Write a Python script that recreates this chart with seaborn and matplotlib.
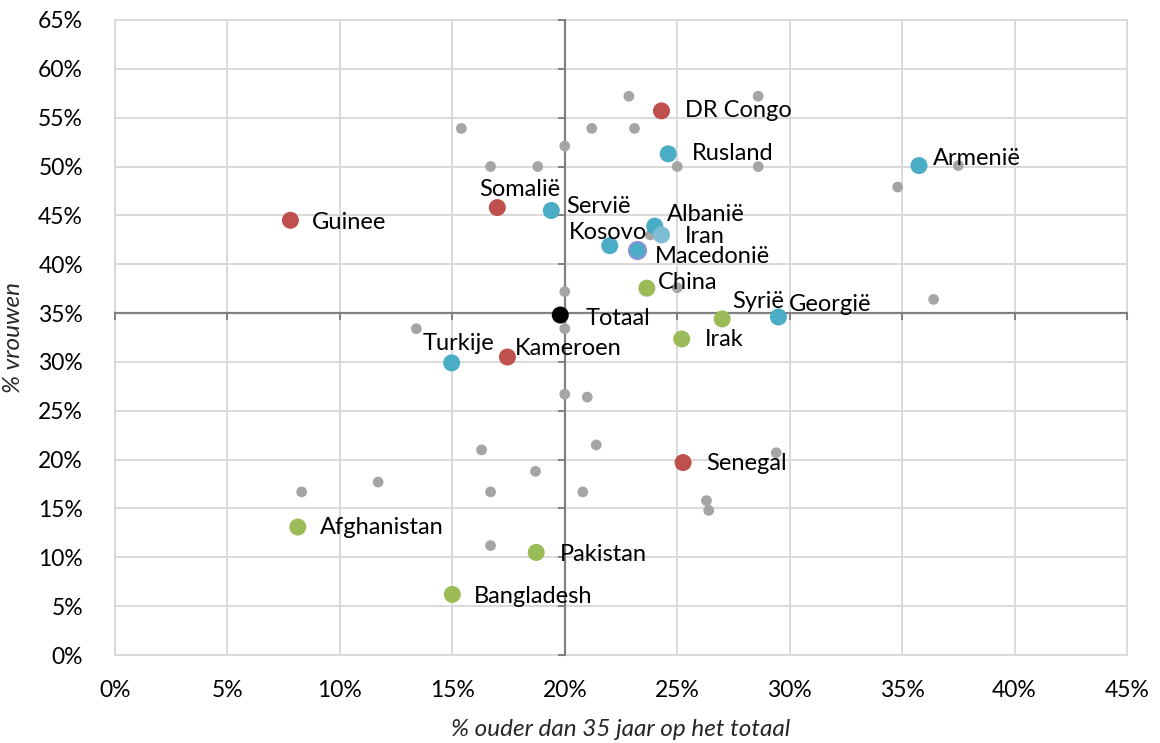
import matplotlib
matplotlib.use("Agg")
import matplotlib.pyplot as plt
import seaborn as sns
import pandas as pd
from matplotlib.ticker import FixedLocator, FuncFormatter

# ---------------- data ----------------
# Other (unlabelled) countries, grey
grey_x = [22.85, 28.6, 15.4, 21.2, 23.1, 20.0, 16.7, 18.8, 25.0, 28.6, 23.8, 25.0, 20.0,
          13.4, 20.0, 20.0, 21.0, 16.3, 21.4, 29.4, 18.7, 8.3, 11.7, 16.7, 20.8, 26.3,
          26.4, 16.7, 37.5, 34.8, 36.4]
grey_y = [57.2, 57.2, 53.9, 53.9, 53.9, 52.1, 50.0, 50.0, 50.0, 50.0, 43.0, 37.6, 37.2,
          33.4, 33.4, 26.7, 26.4, 21.0, 21.5, 20.7, 18.8, 16.7, 17.7, 16.7, 16.7, 15.8,
          14.8, 11.2, 50.1, 47.9, 36.4]

countries = ["DR Congo", "Rusland", "Armenië", "Somalië", "Servië", "Albanië", "Iran",
             "Kosovo", "Macedonië", "China", "Syrië", "Georgië", "Totaal", "Irak",
             "Turkije", "Kameroen", "Senegal", "Afghanistan", "Pakistan", "Bangladesh",
             "Guinee"]
pct_older = [24.3, 24.6, 35.75, 17.0, 19.4, 24.0, 24.3, 22.0, 23.2, 23.65, 27.0, 29.5,
             19.8, 25.2, 14.97, 17.45, 25.26, 8.13, 18.73, 15.0, 7.8]
pct_women = [55.7, 51.3, 50.1, 45.8, 45.5, 43.9, 43.0, 41.9, 41.5, 37.55, 34.4, 34.6,
             34.8, 32.35, 29.9, 30.5, 19.7, 13.1, 10.5, 6.2, 44.5]
region = ["Afrika", "Europa", "Europa", "Afrika", "Europa", "Europa", "Iran",
          "Europa", "Macedonie", "Azie", "Azie", "Europa", "Totaal", "Azie",
          "Europa", "Afrika", "Afrika", "Azie", "Azie", "Azie", "Afrika"]

x_ticks = [0, 5, 10, 15, 20, 25, 30, 35, 40, 45]
y_ticks = [0, 5, 10, 15, 20, 25, 30, 35, 40, 45, 50, 55, 60, 65]

# ---------------- style ----------------
palette = {"Afrika": "#C0504D", "Europa": "#4BACC6", "Azie": "#9BBB59",
           "Iran": "#7DBDD5", "Macedonie": "#4BACC6", "Totaal": "#000000"}
label_offsets = {  # pixel offsets (dx, dy) of label anchor relative to point
    "DR Congo": (24, 0, "left"), "Rusland": (24, 0, "left"), "Armenië": (14, 7, "left"),
    "Somalië": (22, 18, "center"), "Servië": (15, 4, "left"), "Albanië": (12, 12, "left"),
    "Iran": (23, -2, "left"), "Kosovo": (-2, 13, "center"), "Macedonië": (18, -7, "left"),
    "China": (11, 6, "left"), "Syrië": (10, 17, "left"), "Georgië": (10, 12, "left"),
    "Totaal": (25, -3, "left"), "Irak": (23, -1, "left"), "Turkije": (7, 19, "center"),
    "Kameroen": (7, 9, "left"), "Senegal": (23, -1, "left"), "Afghanistan": (22, 0, "left"),
    "Pakistan": (24, -2, "left"), "Bangladesh": (22, -2, "left"), "Guinee": (21, -2, "left"),
}
LABEL_FS = 17
TICK_FS = 16.5
TITLE_FS = 17.5

sns.set_theme(style="white")
plt.rcParams["font.family"] = ["Lato", "DejaVu Sans"]

fig = plt.figure(figsize=(11.6, 7.43), dpi=100)
ax = fig.add_axes([115 / 1160, 1 - 655 / 743, (1127 - 115) / 1160, (655 - 20) / 743])

grid_c = "#D9D9D9"
for v in x_ticks:
    ax.axvline(v, color=grid_c, lw=1.4, zorder=0, clip_on=False)
for v in y_ticks:
    ax.axhline(v, color=grid_c, lw=1.4, zorder=0, clip_on=False)

grey_df = pd.DataFrame({"x": grey_x, "y": grey_y})
sns.scatterplot(data=grey_df, x="x", y="y", color="#A5A5A5", s=60, edgecolor="none",
                ax=ax, zorder=3, legend=False)

df = pd.DataFrame({"x": pct_older, "y": pct_women, "region": region, "name": countries})
main = df[df["region"] != "Macedonie"]
sns.scatterplot(data=main, x="x", y="y", hue="region", palette=palette, s=150,
                edgecolor="none", ax=ax, zorder=4, legend=False)
mac = df[df["region"] == "Macedonie"]
sns.scatterplot(data=mac, x="x", y="y", color="#4BACC6", s=150, edgecolor="#8E92D6",
                linewidth=1.6, ax=ax, zorder=4, legend=False)

for name, xv, yv in zip(countries, pct_older, pct_women):
    dx, dy, ha = label_offsets[name]
    ax.annotate(name, (xv, yv), xytext=(dx, dy), textcoords="offset pixels",
                ha=ha, va="center", fontsize=LABEL_FS, color="#000000", zorder=5)

ax.set_xlim(0, 45)
ax.set_ylim(0, 65)

# axes crossing at (20%, 35%)
for s in ["top", "right"]:
    ax.spines[s].set_visible(False)
ax.spines["left"].set_position(("data", 20))
ax.spines["bottom"].set_position(("data", 35))
for s in ["left", "bottom"]:
    ax.spines[s].set_color("#808080")
    ax.spines[s].set_linewidth(1.6)
    ax.spines[s].set_zorder(2)
ax.xaxis.set_major_locator(FixedLocator(x_ticks))
ax.yaxis.set_major_locator(FixedLocator(y_ticks))
ax.tick_params(axis="both", which="major", direction="out", length=5, width=1.4,
               color="#808080", labelleft=False, labelbottom=False,
               left=True, bottom=True)
ax.set_xlabel("")
ax.set_ylabel("")

pct = FuncFormatter(lambda v, p: f"{v:.0f}%")
secx = ax.secondary_xaxis(0)
secx.xaxis.set_major_locator(FixedLocator(x_ticks))
secx.xaxis.set_major_formatter(pct)
secx.tick_params(length=0, pad=18, labelsize=TICK_FS, labelcolor="#000000")
secx.spines["bottom"].set_visible(False)
secx.set_xlabel("% ouder dan 35 jaar op het totaal", fontsize=TITLE_FS, style="italic",
                labelpad=13)

secy = ax.secondary_yaxis(0)
secy.yaxis.set_major_locator(FixedLocator(y_ticks))
secy.yaxis.set_major_formatter(pct)
secy.tick_params(length=0, pad=23, labelsize=TICK_FS, labelcolor="#000000")
secy.spines["left"].set_visible(False)
secy.set_ylabel("% vrouwen", fontsize=TITLE_FS, style="italic", labelpad=10)

fig.savefig("out.png", dpi=100)
